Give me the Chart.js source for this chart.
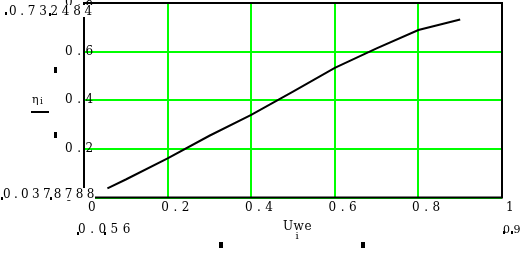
<!DOCTYPE html>
<html>
<head>
<meta charset="utf-8">
<script src="https://cdn.jsdelivr.net/npm/chart.js@4/dist/chart.umd.min.js"></script>
<style>
  body { margin: 0; background: #fff; }
  canvas { display: block; }
</style>
</head>
<body>
<canvas id="chart" width="520" height="253"></canvas>
<script>
// data
const uwe = [0.056, 0.1, 0.2, 0.3, 0.4, 0.5, 0.6, 0.7, 0.8, 0.9];
const eta = [0.0379, 0.074, 0.161, 0.254, 0.34, 0.435, 0.533, 0.613, 0.689, 0.7325];

const xTicks = [0, 0.2, 0.4, 0.6, 0.8, 1];
const xTickLabels = ['0', '0.2', '0.4', '0.6', '0.8', '1'];
const yTicks = [0, 0.2, 0.4, 0.6, 0.8];
const yTickLabels = ['0', '0.2', '0.4', '0.6', '0.8'];

// Mathcad range markers
const yMaxLabel = '0.732484';
const yMinLabel = '0.0378788';
const xMinLabel = '0.056';
const xMaxLabel = '0.9';

const FONT = '"DejaVu Serif", "Liberation Serif", serif';

function text(ctx, str, x, y, size, spacing, align) {
    ctx.font = size + 'px ' + FONT;
    ctx.letterSpacing = spacing + 'px';
    ctx.textAlign = align || 'left';
    ctx.textBaseline = 'alphabetic';
    ctx.fillText(str, x, y);
}

function marks(ctx, list) {
    list.forEach(m => ctx.fillRect(m[0], m[1], m[2], m[3]));
}

const mathcadFrame = {
    id: 'mathcadFrame',
    beforeDraw(chart) {
        chart.ctx.letterSpacing = '4.5px';
    },
    afterDraw(chart) {
        const { ctx, chartArea: a } = chart;
        ctx.save();
        ctx.strokeStyle = '#000';
        ctx.lineWidth = 2;
        ctx.strokeRect(a.left, a.top, a.right - a.left, a.bottom - a.top);

        // boxes behind limit labels hide the corner ticks
        ctx.fillStyle = '#fff';
        ctx.fillRect(0, 5, 93, 12);
        ctx.fillRect(0, 188, 95, 12);

        ctx.fillStyle = '#000';
        text(ctx, yMaxLabel, 9, 15, 12, 3.7);
        text(ctx, yMinLabel, 3, 197.5, 12, 3.3);
        text(ctx, xMinLabel, 78, 233, 12, 4.5);
        text(ctx, xMaxLabel, 503, 233, 11, 0);

        // axis names
        text(ctx, 'Uwe', 283, 230, 12, 0.5);
        text(ctx, 'i', 297, 239, 10, 0, 'center');
        text(ctx, '\u03b7', 32, 103, 11, 0);
        text(ctx, 'i', 40, 104, 9, 0);
        ctx.fillRect(31, 111, 18, 2);

        // placeholder marks
        marks(ctx, [
            [5, 12, 2, 3], [49, 13, 2, 3],
            [1, 197, 2, 3], [50, 197, 2, 3],
            [77, 232, 2, 3], [104, 232, 2, 3],
            [503, 231, 2, 3], [511, 231, 2, 3],
            [54, 67, 3, 6], [54, 132, 3, 6],
            [219, 242, 4, 6], [361, 242, 4, 6]
        ]);
        ctx.restore();
    }
};

new Chart(document.getElementById('chart'), {
    type: 'scatter',
    data: {
        datasets: [{
            data: uwe.map((u, i) => ({ x: u, y: eta[i] })),
            showLine: true,
            borderColor: '#000',
            borderWidth: 2,
            pointRadius: 0,
            tension: 0
        }]
    },
    options: {
        responsive: false,
        animation: false,
        layout: { padding: { top: 3, right: 18, left: 0, bottom: 0 } },
        plugins: { legend: { display: false }, tooltip: { enabled: false } },
        scales: {
            x: {
                type: 'linear', min: 0, max: 1,
                afterBuildTicks: s => { s.ticks = xTicks.map(v => ({ value: v })); },
                afterFit: s => { s.height = 55.5; s.paddingLeft = 0; s.paddingRight = 0; },
                grid: { color: '#00ff00', lineWidth: 2, drawTicks: false },
                border: { display: false },
                ticks: {
                    color: '#000', font: { family: FONT, size: 12 },
                    padding: 3, labelOffset: 10, maxRotation: 0, autoSkip: false,
                    callback: (v, i) => xTickLabels[i]
                }
            },
            y: {
                type: 'linear', min: 0, max: 0.8,
                afterBuildTicks: s => { s.ticks = yTicks.map(v => ({ value: v })); },
                afterFit: s => { s.width = 84; s.paddingTop = 0; s.paddingBottom = 0; },
                grid: { color: '#00ff00', lineWidth: 2, drawTicks: false },
                border: { display: false },
                ticks: {
                    color: '#000', font: { family: FONT, size: 12 },
                    mirror: true, padding: -19, autoSkip: false,
                    callback: (v, i) => yTickLabels[i]
                }
            }
        }
    },
    plugins: [mathcadFrame]
});
</script>
</body>
</html>
